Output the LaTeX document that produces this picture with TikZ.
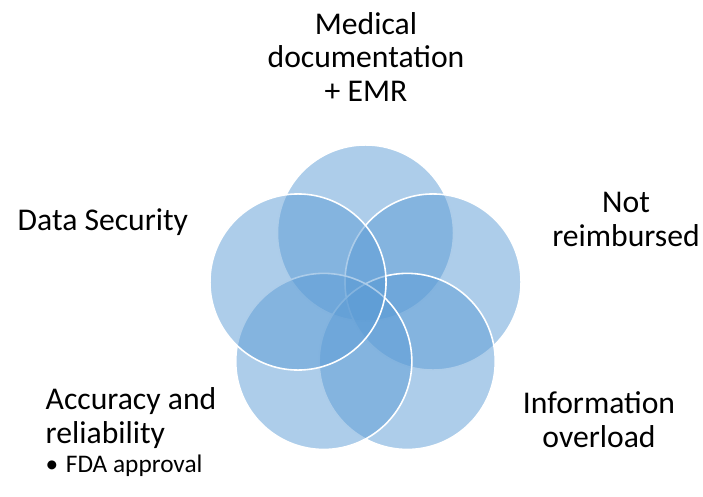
\documentclass[tikz,border=0pt]{standalone}
\usepackage{fontspec}
\setmainfont{Carlito}
\definecolor{petalblue}{HTML}{5B9BD5}
\tikzset{
  petal/.style={circle, fill=petalblue, fill opacity=0.5, draw=white, line width=0.45pt, minimum size=1.76cm, inner sep=0pt},
  caption/.style={inner sep=0pt, font=\fontsize{9}{9.5}\selectfont},
  subcaption/.style={inner sep=0pt, font=\fontsize{7.2}{8}\selectfont}
}

\begin{document}
\begin{tikzpicture}[x=0.01cm, y=-0.01cm]
  \useasboundingbox (0,0) rectangle (703,497) ;
  % the five overlapping circles
  \foreach \n/\x/\y in {top/365.5/233, right/433/282, botright/407.2/361.4, botleft/323.8/361.4, left/298/282}
  {
    \node[petal] (\n) at (\x,\y) {} ;
  }
  % labels round the circles
  \node[caption, anchor=base, align=center] (medical) at (366,101) {Medical\\documentation\\+ EMR} ;
  \node[caption, anchor=base west] (security) at (17,230) {Data Security} ;
  \node[caption, anchor=base, align=center] (reimbursed) at (626,246) {Not\\reimbursed} ;
  \node[caption, anchor=base, align=center] (overload) at (599,447) {Information\\overload} ;
  \node[caption, anchor=base west, align=left] (accuracy) at (45,443) {Accuracy and\\reliability} ;
  \node[subcaption, anchor=base west] (fda) at (45,472) {\textbullet\hspace{0.3em}FDA approval} ;
\end{tikzpicture}
\end{document}
